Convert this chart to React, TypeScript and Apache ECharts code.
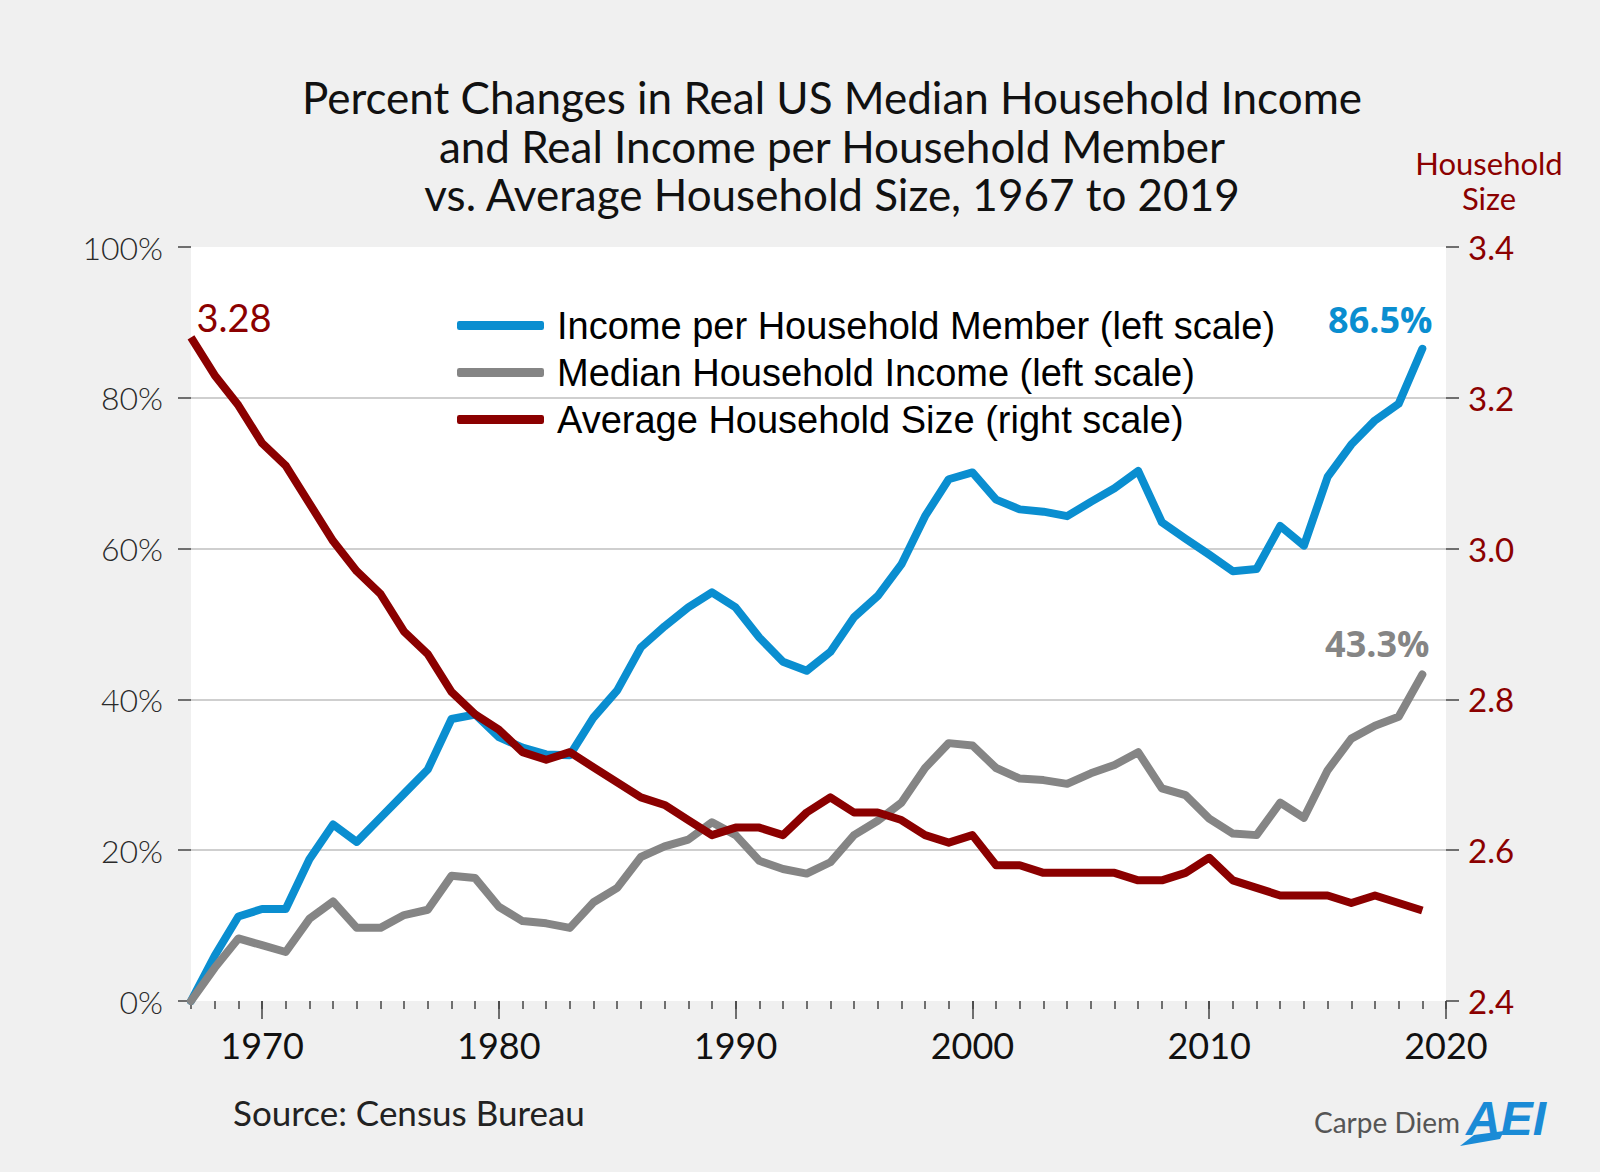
/** Income per household member vs household size, 1967-2019 */
import { useEffect, useRef } from "react";
import * as echarts from "echarts";

const years = [
  1967, 1968, 1969, 1970, 1971, 1972, 1973, 1974, 1975, 1976, 1977, 1978, 1979,
  1980, 1981, 1982, 1983, 1984, 1985, 1986, 1987, 1988, 1989, 1990, 1991, 1992,
  1993, 1994, 1995, 1996, 1997, 1998, 1999, 2000, 2001, 2002, 2003, 2004, 2005,
  2006, 2007, 2008, 2009, 2010, 2011, 2012, 2013, 2014, 2015, 2016, 2017, 2018,
  2019,
];

// percent change since 1967 (left scale)
const incomePerMember = [
  0, 6.0, 11.2, 12.2, 12.2, 18.8, 23.4, 21.1, 24.3, 27.5, 30.7, 37.4, 38.0,
  35.0, 33.6, 32.7, 32.6, 37.6, 41.2, 46.9, 49.7, 52.2, 54.2, 52.2, 48.2, 45.0,
  43.8, 46.3, 50.9, 53.7, 57.9, 64.3, 69.2, 70.1, 66.5, 65.2, 64.9, 64.3, 66.2,
  68.0, 70.3, 63.5, 61.3, 59.2, 57.0, 57.3, 63.0, 60.4, 69.5, 73.8, 77.0, 79.2,
  86.5,
];

const medianIncome = [
  0, 4.4, 8.3, 7.4, 6.5, 10.9, 13.2, 9.7, 9.7, 11.4, 12.1, 16.6, 16.3,
  12.5, 10.6, 10.3, 9.7, 13.1, 15.0, 19.1, 20.5, 21.4, 23.7, 22.0, 18.6, 17.5,
  16.9, 18.4, 22.0, 23.9, 26.3, 30.9, 34.2, 33.9, 30.9, 29.5, 29.3, 28.8, 30.2,
  31.3, 33.0, 28.2, 27.3, 24.2, 22.2, 22.0, 26.3, 24.3, 30.6, 34.8, 36.5, 37.7,
  43.3,
];

// persons per household (right scale)
const householdSize = [
  3.28, 3.23, 3.19, 3.14, 3.11, 3.06, 3.01, 2.97, 2.94, 2.89, 2.86, 2.81, 2.78,
  2.76, 2.73, 2.72, 2.73, 2.71, 2.69, 2.67, 2.66, 2.64, 2.62, 2.63, 2.63, 2.62,
  2.65, 2.67, 2.65, 2.65, 2.64, 2.62, 2.61, 2.62, 2.58, 2.58, 2.57, 2.57, 2.57,
  2.57, 2.56, 2.56, 2.57, 2.59, 2.56, 2.55, 2.54, 2.54, 2.54, 2.53, 2.54, 2.53,
  2.52,
];

const decadeTicks = [1970, 1980, 1990, 2000, 2010, 2020];

const seriesNames = [
  "Income per Household Member (left scale)",
  "Median Household Income (left scale)",
  "Average Household Size (right scale)",
];

const titleLines = [
  "Percent Changes in Real US Median Household Income",
  "and Real Income per Household Member",
  "vs. Average Household Size, 1967 to 2019",
];

const BLUE = "#0a8ed0";
const GRAY = "#858585";
const RED = "#8b0000";
const FONT = "Lato, 'Open Sans', sans-serif";

export default function App() {
  const chartRef = useRef<HTMLDivElement>(null);

  useEffect(() => {
    if (!chartRef.current) return;

    const chart = echarts.init(chartRef.current, null, { renderer: "svg" });
    const last = years.length - 1;
    const toPairs = (vals: number[]) => vals.map((v, i) => [years[i], v]);

    const pointLabel = (
      color: string,
      offset: number[],
      fontSize: number,
      bold: boolean,
      formatter: any
    ) => ({
      symbol: "circle",
      symbolSize: 1,
      itemStyle: { color: "transparent" },
      label: {
        show: true,
        position: "top",
        distance: 0,
        offset,
        color,
        fontSize,
        fontFamily: bold ? "'Open Sans', sans-serif" : FONT,
        fontWeight: bold ? "bold" : "normal",
        formatter,
      },
    });

    const centered = (text: string, x: number, y: number, fontSize: number, fill: string) => ({
      type: "text",
      x,
      y,
      style: {
        text,
        fill,
        fontFamily: FONT,
        fontSize,
        align: "center",
        textAlign: "center",
        verticalAlign: "middle",
        textVerticalAlign: "middle",
      },
    });

    const option = {
      animation: false,
      backgroundColor: "#f0f0f0",
      grid: {
        left: 191,
        right: 154,
        top: 247,
        bottom: 171,
        show: true,
        backgroundColor: "#ffffff",
        borderWidth: 0,
      },
      legend: {
        orient: "vertical",
        left: 452,
        top: 297,
        icon: "roundRect",
        itemWidth: 87,
        itemHeight: 9,
        itemGap: 0,
        textStyle: {
          fontFamily: "'Liberation Sans', Arial, sans-serif",
          fontSize: 38,
          color: "#000",
          lineHeight: 47,
          padding: [0, 0, 0, 8],
        },
        data: seriesNames,
      },
      xAxis: [
        {
          type: "value",
          min: 1967,
          max: 2020,
          interval: 1,
          axisLine: { show: false },
          axisTick: { show: true, length: 8, lineStyle: { color: "#444", width: 1.5 } },
          axisLabel: { show: false },
          splitLine: { show: false },
        },
        {
          type: "value",
          position: "bottom",
          min: 1967,
          max: 2020,
          axisLine: { show: false },
          axisTick: {
            show: true,
            length: 18,
            customValues: decadeTicks,
            lineStyle: { color: "#444", width: 1.5 },
          },
          axisLabel: {
            customValues: decadeTicks,
            formatter: (v: number) => String(v),
            margin: 26,
            fontFamily: FONT,
            fontSize: 36,
            color: "#111",
          },
          splitLine: { show: false },
        },
      ],
      yAxis: [
        {
          type: "value",
          position: "left",
          min: 0,
          max: 100,
          interval: 20,
          axisLine: { show: false },
          axisTick: { show: true, length: 13, lineStyle: { color: "#444", width: 1.5 } },
          axisLabel: {
            formatter: "{value}%",
            margin: 28,
            fontFamily: FONT,
            fontWeight: 300,
            fontSize: 32,
            color: "#2a2a2a",
          },
          splitLine: {
            show: true,
            showMinLine: false,
            showMaxLine: false,
            lineStyle: { color: "#cfcfcf", width: 2 },
          },
        },
        {
          type: "value",
          position: "right",
          min: 2.4,
          max: 3.4,
          interval: 0.2,
          axisLine: { show: false },
          axisTick: { show: true, length: 13, lineStyle: { color: "#444", width: 1.5 } },
          axisLabel: {
            formatter: (v: number) => v.toFixed(1),
            margin: 22,
            fontFamily: FONT,
            fontSize: 33,
            color: RED,
          },
          splitLine: { show: false },
        },
      ],
      series: [
        {
          name: seriesNames[0],
          type: "line",
          xAxisIndex: 0,
          yAxisIndex: 0,
          symbol: "none",
          color: BLUE,
          lineStyle: { color: BLUE, width: 8, cap: "round", join: "round" },
          data: toPairs(incomePerMember),
          markPoint: {
            ...pointLabel(BLUE, [-42, -11], 36, true, "{c}%"),
            data: [{ coord: [years[last], incomePerMember[last]], value: incomePerMember[last] }],
          },
        },
        {
          name: seriesNames[1],
          type: "line",
          xAxisIndex: 0,
          yAxisIndex: 0,
          symbol: "none",
          color: GRAY,
          lineStyle: { color: GRAY, width: 8, cap: "round", join: "round" },
          data: toPairs(medianIncome),
          markPoint: {
            ...pointLabel(GRAY, [-45, -13], 36, true, "{c}%"),
            data: [{ coord: [years[last], medianIncome[last]], value: medianIncome[last] }],
          },
        },
        {
          name: seriesNames[2],
          type: "line",
          xAxisIndex: 0,
          yAxisIndex: 1,
          symbol: "none",
          color: RED,
          lineStyle: { color: RED, width: 8, join: "round" },
          data: toPairs(householdSize),
          markPoint: {
            ...pointLabel(RED, [43, -1], 38, false, (p: any) => Number(p.value).toFixed(2)),
            data: [{ coord: [years[0], householdSize[0]], value: householdSize[0] }],
          },
        },
      ],
      graphic: [
        centered(titleLines[0], 832, 97, 44, "#111"),
        centered(titleLines[1], 832, 146, 44, "#111"),
        centered(titleLines[2], 832, 194, 44, "#111"),
        centered("Household", 1489, 163, 31, RED),
        centered("Size", 1489, 198, 31, RED),
        {
          type: "text",
          x: 233,
          y: 1112,
          style: {
            text: "Source: Census Bureau",
            fill: "#222",
            fontFamily: FONT,
            fontSize: 35,
            align: "left",
            textAlign: "left",
            verticalAlign: "middle",
            textVerticalAlign: "middle",
          },
        },
        {
          type: "text",
          x: 1314,
          y: 1122,
          style: {
            text: "Carpe Diem",
            fill: "#555",
            fontFamily: FONT,
            fontSize: 28,
            align: "left",
            textAlign: "left",
            verticalAlign: "middle",
            textVerticalAlign: "middle",
          },
        },
        {
          type: "polygon",
          shape: {
            points: [
              [1460, 1146],
              [1474, 1135],
              [1504, 1131],
              [1500, 1139],
            ],
          },
          style: { fill: "#1a8bd6" },
        },
        {
          type: "text",
          x: 1466,
          y: 1118,
          style: {
            text: "AEI",
            fill: "#1a8bd6",
            fontFamily: "'Liberation Sans', Arial, sans-serif",
            fontSize: 48,
            fontWeight: 900,
            fontStyle: "italic",
            align: "left",
            textAlign: "left",
            verticalAlign: "middle",
            textVerticalAlign: "middle",
          },
        },
      ],
    };

    chart.setOption(option);

    return () => {
      chart.dispose();
    };
  }, []);

  return (
    <div
      ref={chartRef}
      style={{ position: "absolute", left: 0, top: 0, width: 1600, height: 1172 }}
    />
  );
}
